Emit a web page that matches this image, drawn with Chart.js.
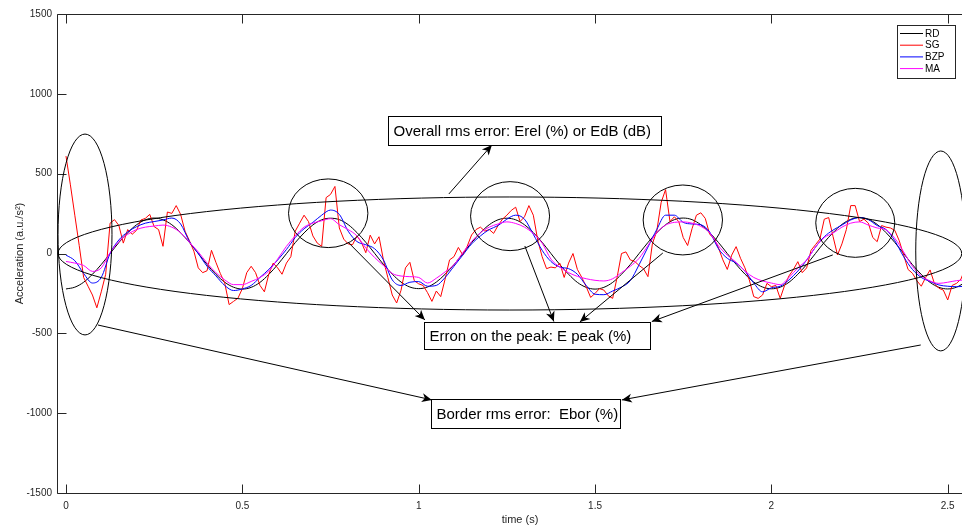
<!DOCTYPE html>
<html><head><meta charset="utf-8">
<script src="https://cdn.jsdelivr.net/npm/chart.js@4.4.0/dist/chart.umd.min.js"></script>
<style>
html,body{margin:0;padding:0;background:#fff;overflow:hidden;width:962px;height:527px}
#wrap{position:relative;width:1000px;height:527px}
canvas{display:block}
</style></head><body>
<div id="wrap"><canvas id="c" width="1000" height="527"></canvas></div>
<script>
// ---------- data ----------
const T_START = 0;
const DT_COARSE = 0.025;   // sample step of RD, BZP, MA (s)
const DT_FINE = 0.0125;    // sample step of SG (s)
const seriesLabels = ['RD', 'SG', 'BZP', 'MA'];
const xTickValues = [0, 0.5, 1, 1.5, 2, 2.5];
const yTickValues = [-1500, -1000, -500, 0, 500, 1000, 1500];
const xAxisTitle = 'time (s)';
const yAxisTitle = 'Acceleration (a.u./s\u00B2)';

const rdValues = [
 -222,-211,-180,-130,-69,0,69,130,180,211,222,211,180,130,69,0,-69,-130,-180,-211,
 -223,-212,-181,-131,-70,-1,68,129,179,211,221,212,181,131,70,1,-68,-129,-179,-210,
 -220,-210,-179,-130,-70,-1,68,130,180,211,221,211,180,131,70,0,-69,-130,-181,-212,
 -223,-212,-181,-130,-69,0,69,130,180,212,222,212,180,130,69,0,-68,-129,-179,-210,
 -221,-211,-180,-130,-69,0,70,131,182,214,226,214,182,131,69,0,-70,-131,-181,-212,
 -222,-211,-180
];
const sgValues = [
 610,430,240,50,-150,-205,-260,-340,-240,-130,
 190,212,175,65,150,120,145,210,220,245,
 168,150,45,260,251,300,245,140,80,15,
 -90,-120,-108,20,-55,-125,-185,-320,-300,-280,
 -220,-120,-80,-120,-200,-240,-130,-60,-90,-130,
 -60,-20,140,190,240,200,110,65,45,350,
 370,420,160,90,60,55,110,70,5,115,
 60,105,-40,-150,-260,-310,-230,-90,-55,-170,
 -190,-200,-245,-300,-235,-270,-160,-40,-20,38,
 -10,45,116,150,165,140,150,126,175,215,
 240,270,290,200,230,300,240,84,-20,-95,
 -85,-90,-60,-150,-60,0,-100,-150,-208,-275,
 -250,-220,-229,-265,-281,-150,0,10,-40,-50,
 -75,-95,-145,60,140,320,400,200,230,199,
 100,50,155,240,255,220,120,95,35,-40,
 -100,-10,43,-30,-90,-166,-270,-281,-260,-187,
 -208,-200,-281,-200,-140,-100,-51,-120,-90,20,
 55,90,215,225,105,-9,60,150,300,300,
 200,215,190,100,74,175,165,160,145,80,
 -10,-100,-124,-170,-205,-150,-103,-190,-218,-229,
 -291,-200,-187,-160,-90
];
const bzpValues = [
 -10,-45,-125,-185,-150,0,85,135,168,190,200,210,222,185,75,0,-80,-140,-200,-232,
 -222,-200,-150,-100,-41,25,100,155,195,240,272,245,140,75,55,30,-40,-165,-200,-180,
 -176,-205,-200,-150,-80,-10,60,110,150,175,215,240,215,120,20,-50,-85,-95,-130,-200,
 -255,-258,-235,-210,-170,-70,40,150,240,240,195,185,180,135,30,-30,-60,-110,-185,-240,
 -215,-205,-165,-110,-41,40,105,147,178,210,225,212,175,150,80,-20,-100,-150,-175,-197,
 -205,-208,-205
];
const maValues = [
 -50,-60,-75,-112,-90,5,75,120,150,165,172,178,165,130,70,10,-60,-120,-165,-195,
 -195,-175,-150,-110,-35,45,110,165,190,205,218,180,150,110,35,-25,-75,-125,-141,-145,
 -150,-185,-155,-115,-70,5,75,130,165,185,198,188,165,125,65,-35,-85,-120,-143,-158,
 -168,-172,-158,-120,-80,-30,50,130,178,195,198,190,170,130,48,-10,-55,-110,-150,-172,
 -185,-195,-150,-90,-41,40,100,128,165,190,198,178,160,148,95,10,-80,-140,-172,-187,
 -180,-170,-165
];

// ---------- styling / layout (not data) ----------
const FONT = '"Liberation Sans", Arial, Helvetica, sans-serif';
const AXIS_COLOR = '#262626';
const X_MIN = -0.0255, X_MAX = 2.6, Y_MIN = -1500, Y_MAX = 1500;
const seriesColors = ['#000000', '#ff0000', '#0000ff', '#ff00ff'];
const drawOrder = [3, 2, 1, 0];

// annotation shapes, placed in data coordinates (time, acceleration)
const annEllipses = [
  {t: 1.2585, v: 0,   rt: 1.2812, rv: 354},
  {t: 0.0539, v: 119, rt: 0.0765, rv: 629},
  {t: 2.4802, v: 16,  rt: 0.0709, rv: 626},
  {t: 0.7435, v: 252, rt: 0.1125, rv: 215},
  {t: 1.2591, v: 234, rt: 0.1120, rv: 216},
  {t: 1.7489, v: 210, rt: 0.1125, rv: 219},
  {t: 2.2378, v: 192, rt: 0.1120, rv: 216}
];
const annArrows = [
  {t1: 1.0856, v1: 373, t2: 1.2075, v2: 679},
  {t1: 0.7993, v1: 72,  t2: 1.0176, v2: -416},
  {t1: 1.3010, v1: 47,  t2: 1.3832, v2: -426},
  {t1: 1.6922, v1: 3,   t2: 1.4569, v2: -429},
  {t1: 2.1740, v1: -9,  t2: 1.6610, v2: -426},
  {t1: 0.0907, v1: -448, t2: 1.0374, v2: -917},
  {t1: 2.4235, v1: -573, t2: 1.5760, v2: -917}
];
const annBoxes = [
  {text: 'Overall rms error: Erel (%) or EdB (dB)', t1: 0.9127, t2: 1.6865, v1: 861, v2: 680},
  {text: 'Erron on the peak: E peak (%)', t1: 1.0147, t2: 1.6553, v1: -429, v2: -598},
  {text: 'Border rms error:  Ebor (%)', t1: 1.0346, t2: 1.5703, v1: -911, v2: -1093}
];

const tCoarse = rdValues.map((_, i) => +(T_START + i * DT_COARSE).toFixed(5));
const tFine = sgValues.map((_, i) => +(T_START + i * DT_FINE).toFixed(5));
const seriesValues = [rdValues, sgValues, bzpValues, maValues];
const seriesTimes = [tCoarse, tFine, tCoarse, tCoarse];

const datasets = seriesLabels.map((lab, k) => ({
  label: lab,
  data: seriesValues[k].map((v, i) => ({x: seriesTimes[k][i], y: v})),
  borderColor: seriesColors[k],
  backgroundColor: seriesColors[k],
  borderWidth: 1,
  pointRadius: 0,
  fill: false,
  order: drawOrder[k],
  cubicInterpolationMode: k === 1 ? 'default' : 'monotone',
  tension: 0
}));

function arrowHead(ctx, x1, y1, x2, y2) {
  const ang = Math.atan2(y2 - y1, x2 - x1), L = 10, W = 4.5;
  const ux = Math.cos(ang), uy = Math.sin(ang), px = -uy, py = ux;
  const bx = x2 - ux * L, by = y2 - uy * L;
  const nx = x2 - ux * L * 0.72, ny = y2 - uy * L * 0.72;
  ctx.beginPath();
  ctx.moveTo(x2, y2);
  ctx.lineTo(bx + px * W, by + py * W);
  ctx.lineTo(nx, ny);
  ctx.lineTo(bx - px * W, by - py * W);
  ctx.closePath();
  ctx.fill();
}

const overlayPlugin = {
  id: 'overlay',
  afterDraw(chart) {
    const {ctx, chartArea: a, scales: {x, y}} = chart;
    const X = v => x.getPixelForValue(v), Y = v => y.getPixelForValue(v);
    ctx.save();
    // axes box + inward ticks
    ctx.strokeStyle = AXIS_COLOR; ctx.lineWidth = 1;
    const L = Math.round(a.left) + 0.5, R = Math.round(a.right) - 0.5,
          T = Math.round(a.top) + 0.5, B = Math.round(a.bottom) + 0.5;
    ctx.beginPath();
    ctx.moveTo(L, T); ctx.lineTo(R, T); ctx.lineTo(R, B); ctx.lineTo(L, B); ctx.closePath();
    const TL = 9;
    x.ticks.forEach(tk => {
      const px = Math.round(X(tk.value)) + 0.5;
      ctx.moveTo(px, B); ctx.lineTo(px, B - TL);
      ctx.moveTo(px, T); ctx.lineTo(px, T + TL);
    });
    y.ticks.forEach(tk => {
      const py = Math.round(Y(tk.value)) + 0.5;
      ctx.moveTo(L, py); ctx.lineTo(L + TL, py);
      ctx.moveTo(R, py); ctx.lineTo(R - TL, py);
    });
    ctx.stroke();

    // annotations
    ctx.strokeStyle = '#000'; ctx.fillStyle = '#000'; ctx.lineWidth = 1;
    annEllipses.forEach(e => {
      const cx = X(e.t), cy = Y(e.v);
      const rx = Math.abs(X(e.t + e.rt) - cx), ry = Math.abs(Y(e.v + e.rv) - cy);
      ctx.beginPath(); ctx.ellipse(cx, cy, rx, ry, 0, 0, Math.PI * 2); ctx.stroke();
    });
    annArrows.forEach(ar => {
      const x1 = X(ar.t1), y1 = Y(ar.v1), x2 = X(ar.t2), y2 = Y(ar.v2);
      ctx.beginPath(); ctx.moveTo(x1, y1); ctx.lineTo(x2, y2); ctx.stroke();
      arrowHead(ctx, x1, y1, x2, y2);
    });
    ctx.font = '15px ' + FONT;
    ctx.textBaseline = 'middle'; ctx.textAlign = 'left';
    annBoxes.forEach(bx => {
      const x1 = Math.round(X(bx.t1)) + 0.5, x2 = Math.round(X(bx.t2)) + 0.5;
      const y1 = Math.round(Y(bx.v1)) + 0.5, y2 = Math.round(Y(bx.v2)) + 0.5;
      ctx.strokeStyle = '#000';
      ctx.strokeRect(x1, y1, x2 - x1, y2 - y1);
      ctx.fillStyle = '#000';
      ctx.fillText(bx.text, x1 + 5, (y1 + y2) / 2 + 0.5);
    });

    // legend (top-right, inside axes)
    const lx = 897.5, ly = 25.5, lw = 58, lh = 53;
    ctx.fillStyle = '#fff'; ctx.fillRect(lx, ly, lw, lh);
    ctx.strokeStyle = AXIS_COLOR; ctx.strokeRect(lx, ly, lw, lh);
    ctx.font = '10px ' + FONT; ctx.textBaseline = 'middle';
    seriesLabels.forEach((lab, k) => {
      const ry = 33.5 + k * 11.7;
      ctx.strokeStyle = seriesColors[k]; ctx.lineWidth = 1;
      ctx.beginPath(); ctx.moveTo(900, ry); ctx.lineTo(923, ry); ctx.stroke();
      ctx.fillStyle = '#000'; ctx.fillText(lab, 925, ry + 0.5);
    });
    ctx.restore();
  }
};

new Chart(document.getElementById('c'), {
  type: 'line',
  data: {datasets},
  options: {
    responsive: false,
    animation: false,
    parsing: false,
    normalized: true,
    layout: {padding: {top: 14, right: 17, bottom: 0, left: 0}},
    plugins: {legend: {display: false}, tooltip: {enabled: false}},
    scales: {
      x: {
        type: 'linear', min: X_MIN, max: X_MAX,
        grid: {display: false, drawTicks: false},
        border: {display: false},
        afterBuildTicks: s => { s.ticks = xTickValues.map(v => ({value: v})); },
        afterFit: s => { s.height = 34; },
        ticks: {color: AXIS_COLOR, font: {family: FONT, size: 10}, padding: 7,
                maxRotation: 0, autoSkip: false, callback: v => String(v)},
        title: {display: true, text: xAxisTitle, color: AXIS_COLOR,
                font: {family: FONT, size: 11}, padding: {top: 0, bottom: 0}}
      },
      y: {
        type: 'linear', min: Y_MIN, max: Y_MAX,
        grid: {display: false, drawTicks: false},
        border: {display: false},
        afterBuildTicks: s => { s.ticks = yTickValues.map(v => ({value: v})); },
        afterFit: s => { s.width = 57; },
        ticks: {color: AXIS_COLOR, font: {family: FONT, size: 10}, padding: 5,
                autoSkip: false, callback: v => String(v)},
        title: {display: true, text: yAxisTitle, color: AXIS_COLOR,
                font: {family: FONT, size: 11}, padding: {top: 13, bottom: 0}}
      }
    }
  },
  plugins: [overlayPlugin]
});
</script>
</body></html>
